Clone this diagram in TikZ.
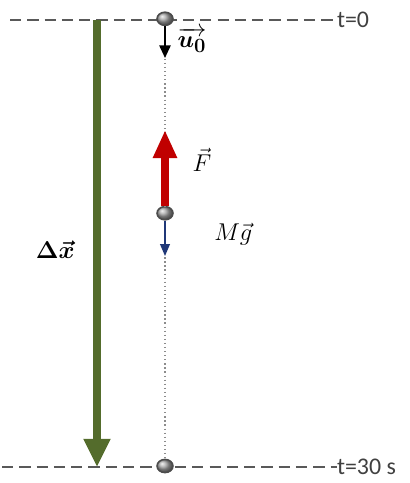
\documentclass[tikz,border=0pt]{standalone}
\usepackage{amsmath,bm}
\usepackage{fontspec}
\setmainfont{Carlito}
\usetikzlibrary{shapes.geometric, arrows.meta, positioning}

\definecolor{olive_green}{RGB}{84,108,44}
\definecolor{force_red}{RGB}{192,0,0}
\definecolor{weight_blue}{RGB}{32,56,120}

\begin{document}
\begin{tikzpicture}[x=1cm,y=1cm]
% Styles for the balls, the lines and the arrows
\tikzstyle{ball} = [ellipse, minimum width=0.4cm, minimum height=0.33cm, inner sep=0pt, draw=black!70, line width=1.1pt, ball color=gray!70]
\tikzstyle{time_line} = [draw=black!65, line width=1pt, dash pattern=on 8pt off 4.3pt]
\tikzstyle{time_label} = [anchor=west, inner sep=0pt, font=\fontsize{17}{20}\selectfont, text=black!75]
\tikzstyle{path_line} = [draw=black!45, line width=0.9pt, dotted]
\tikzstyle{disp_arrow} = [draw=olive_green, line width=5.6pt, -{Triangle[width=18pt, length=20pt]}]
\tikzstyle{f_arrow} = [draw=force_red, line width=5.6pt, -{Triangle[width=16pt, length=20pt]}]
\tikzstyle{u_arrow} = [draw=black, line width=1.4pt, -{Triangle[width=8pt, length=9pt]}]
\tikzstyle{g_arrow} = [draw=weight_blue, line width=1pt, -{Triangle[width=7pt, length=8.5pt]}]
\tikzstyle{vec_label} = [inner sep=0pt, font=\fontsize{19}{22}\selectfont]

\useasboundingbox (0,0) rectangle (10.225,-12.075);

% Time marks
\node (t_start) [time_label] at (8.42,-0.5) {t=0};
\node (t_end) [time_label] at (8.42,-11.675) {t=30 s};
\coordinate (line_top) at (0.25,-0.5);
\coordinate (line_bot) at (0.05,-11.675);
\draw [time_line] (line_top) -- (t_start.west);
\draw [time_line] (line_bot) -- (t_end.west);

% Displacement
\coordinate (dx_top) at (2.425,-0.5);
\coordinate (dx_bot) at (2.425,-11.675);
\draw [disp_arrow] (dx_top) -- (dx_bot);
\node (dx_label) [vec_label] at (1.38,-6.25) {$\bm{\Delta\vec{x}}$};

% Balls
\node (ball_top) [ball] at (4.125,-0.47) {};
\node (ball_mid) [ball] at (4.125,-5.33) {};
\node (ball_bot) [ball] at (4.125,-11.65) {};
\draw [path_line] (ball_top.south) -- (ball_mid.north);
\draw [path_line] (ball_mid.south) -- (ball_bot.north);

% Initial velocity
\coordinate (u_tip) at (4.125,-1.45);
\draw [u_arrow] (ball_top.south) -- (u_tip);
\node (u_label) [vec_label] at (4.8,-1.0) {$\overrightarrow{\bm{u_0}}$};

% Forces
\coordinate (f_tip) at (4.125,-3.25);
\draw [f_arrow] (ball_mid.north) -- (f_tip);
\node (f_label) [vec_label] at (5.05,-4.0) {$\vec{F}$};
\coordinate (g_tip) at (4.125,-6.4);
\draw [g_arrow] (ball_mid.south) -- (g_tip);
\node (g_label) [vec_label, anchor=west] at (5.35,-5.85) {$M\vec{g}$};
\end{tikzpicture}
\end{document}
